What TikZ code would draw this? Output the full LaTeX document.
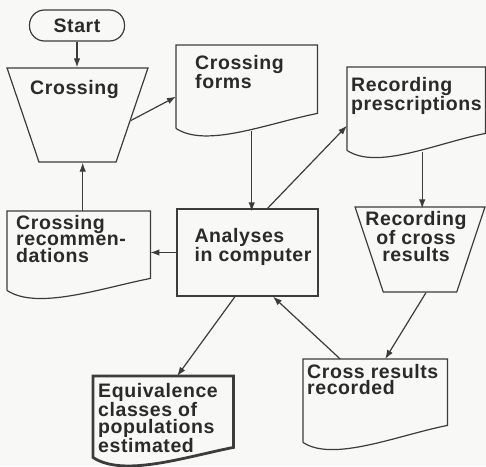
\documentclass[tikz,border=0pt]{standalone}
\usepackage{fontspec}
\newfontfamily\flowfont[LetterSpace=3]{Liberation Sans Bold}
\usetikzlibrary{shapes.geometric,arrows.meta}
\definecolor{ink}{HTML}{2A2A2A}
\definecolor{rule}{HTML}{3C3C3C}
\definecolor{paper}{HTML}{F8F8F6}

\begin{document}
\begin{tikzpicture}[x=1pt, y=-1pt,
    line/.style={draw=rule, line width=1.2pt},
    arr/.style={line, -{Latex[length=9pt,width=6.5pt]}},
    txt/.style={text=ink, font=\flowfont\fontsize{19.5pt}{16.5pt}\selectfont},
    lbl/.style={txt, inner sep=0pt, align=left, anchor=north west},
    doc/.style={rectangle, anchor=north west, inner sep=0pt,
                minimum width=141pt, minimum height=83pt},
    trap/.style={trapezium, line, shape border rotate=180,
                 trapezium stretches=true, inner sep=3pt},
    box/.style={rectangle, line, inner sep=0pt}
]
    \useasboundingbox[fill=paper] (0,0) rectangle (486,466);

    % terminal, process and manual steps
    \node[box, txt, rounded corners=15pt, minimum width=95pt, minimum height=31pt] (start) at (77,25.5) {Start};
    \node[trap, minimum width=141pt, minimum height=94pt,
          trapezium left angle=67.5, trapezium right angle=67.5,
          label={[lbl, anchor=north, yshift=-13pt, xshift=-3pt]90:Crossing}] (cross) at (77.5,115) {};
    \node[box, minimum width=141pt, minimum height=87pt,
          label={[lbl, xshift=18pt, yshift=-20pt]north west:{Analyses\\in computer}}] (comp) at (247.5,252.5) {};
    \node[trap, minimum width=130pt, minimum height=85pt,
          trapezium left angle=69, trapezium right angle=69,
          label={[lbl, anchor=north, align=center, yshift=-5pt, xshift=-4pt]90:{Recording\\of cross\\results}}] (rescross) at (420,249.5) {};

    % documents
    \node[doc, label={[lbl, xshift=19pt, yshift=-10pt]north west:{Crossing\\forms}}] (forms) at (176,45) {};
    \node[doc, minimum width=138pt,
          label={[lbl, xshift=4pt, yshift=-10pt]north west:{Recording\\prescriptions}}] (presc) at (347,67) {};
    \node[doc, minimum width=143pt, minimum height=79pt,
          label={[lbl, xshift=9pt, yshift=-4pt]north west:{Crossing\\recommen-\\dations}}] (recom) at (7,211) {};
    \node[doc, minimum width=144pt,
          label={[lbl, xshift=4pt, yshift=-5pt]north west:{Cross results\\recorded}}] (recorded) at (303,359) {};
    \node[doc, minimum width=140pt, minimum height=81pt,
          label={[lbl, xshift=5pt, yshift=-7pt]north west:{Equivalence\\classes of\\populations\\estimated}}] (equiv) at (93,376) {};

    \foreach \n/\r in {forms/15, presc/17, recom/12, recorded/17}
        \draw[line] (\n.south west) -- (\n.north west) -- (\n.north east) -- ([yshift=\r pt]\n.south east)
            .. controls +(-50,10) and +(30,20) .. (\n.south west);
    \draw[line, line width=2.8pt] (equiv.south west) -- (equiv.north west) -- (equiv.north east) -- ([yshift=10pt]equiv.south east)
        .. controls +(-50,10) and +(30,20) .. cycle;

    % flow
    \draw[arr] (start.south) -- (start.south |- cross.90);
    \draw[arr] (cross.-6) -- ([yshift=-10pt]forms.west);
    \draw[arr] ([xshift=5pt,yshift=-3pt]forms.south) -- ([xshift=5pt,yshift=-3pt]forms.south |- comp.north);
    \draw[arr] ([xshift=20pt]comp.north) -- ([yshift=-17pt]presc.west);
    \draw[arr] ([xshift=6pt,yshift=-2pt]presc.south) -- ([xshift=6pt,yshift=-2pt]presc.south |- rescross.90);
    \draw[arr] ([xshift=6pt]rescross.270) -- ([xshift=10pt]recorded.north);
    \draw[arr] ([xshift=-35pt]recorded.north) -- ([xshift=25.5pt]comp.south);
    \draw[arr] ([xshift=-12.5pt]comp.south) -- ([xshift=14pt]equiv.north);
    \draw[arr] (comp.west) -- (comp.west -| recom.east);
    \draw[arr] ([xshift=4pt]recom.north) -- ([xshift=4pt]recom.north |- cross.270);
\end{tikzpicture}
\end{document}
